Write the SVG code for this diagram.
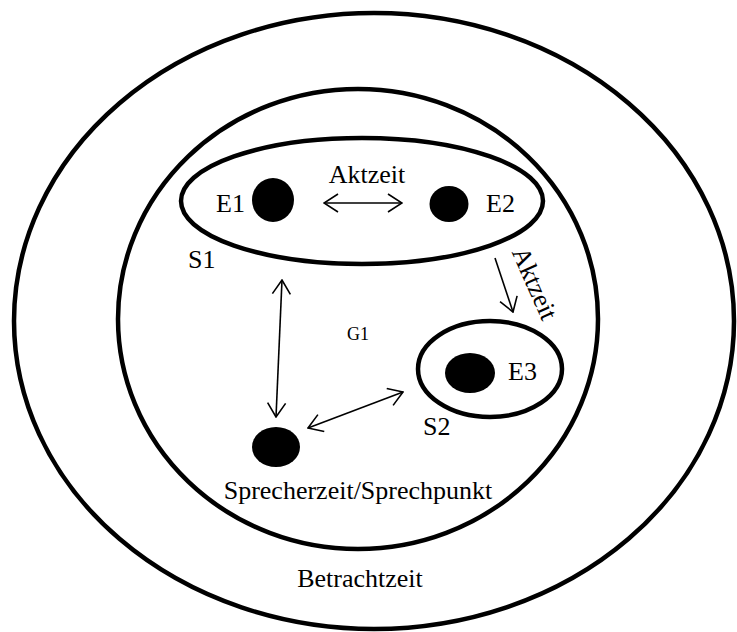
<svg xmlns="http://www.w3.org/2000/svg" width="737" height="632" viewBox="0 0 737 632">
<style>
.ring{fill:none;stroke:#000;stroke-width:4.5}
.dot{fill:#000}
.lbl{font-family:"Liberation Serif","Times New Roman",serif;font-size:26px;fill:#000}
.conn{fill:none;stroke:#000;stroke-width:1.6}
</style>
<defs>
<marker id="arr" viewBox="0 0 16 20" refX="15" refY="10" markerWidth="16" markerHeight="20" markerUnits="userSpaceOnUse" orient="auto-start-reverse">
<path d="M1,1 L15,10 L1,19" fill="none" stroke="#000" stroke-width="1.6"/>
</marker>
</defs>
<rect width="737" height="632" fill="#fff"/>
<g id="betrachtzeit">
<ellipse class="ring" cx="374" cy="321" rx="360" ry="308"/>
<text class="lbl" x="360" y="587" text-anchor="middle">Betrachtzeit</text>
</g>
<g id="G1">
<ellipse class="ring" cx="358" cy="319" rx="240" ry="230"/>
<text class="lbl" x="358" y="340" text-anchor="middle" style="font-size:18px">G1</text>
</g>
<g id="S1">
<ellipse class="ring" cx="362" cy="201" rx="181" ry="63"/>
<text class="lbl" x="188" y="268">S1</text>
</g>
<g id="E1">
<ellipse class="dot" cx="273" cy="200" rx="21" ry="22"/>
<text class="lbl" x="216" y="212">E1</text>
</g>
<g id="E2">
<ellipse class="dot" cx="449" cy="204" rx="19.5" ry="18"/>
<text class="lbl" x="486" y="212">E2</text>
</g>
<g id="S2">
<ellipse class="ring" cx="490" cy="369" rx="72" ry="48"/>
<text class="lbl" x="423" y="435">S2</text>
</g>
<g id="E3">
<ellipse class="dot" cx="470" cy="373" rx="25" ry="20"/>
<text class="lbl" x="508" y="380">E3</text>
</g>
<g id="sprecher">
<ellipse class="dot" cx="276" cy="447" rx="24" ry="20"/>
<text class="lbl" x="358" y="499" text-anchor="middle">Sprecherzeit/Sprechpunkt</text>
</g>
<g id="connectors">
<line class="conn" x1="324" y1="203" x2="402" y2="203" marker-start="url(#arr)" marker-end="url(#arr)"/>
<text class="lbl" x="367" y="183" text-anchor="middle">Aktzeit</text>
<line class="conn" x1="495" y1="258" x2="513" y2="312" marker-end="url(#arr)"/>
<text class="lbl" x="527" y="287" text-anchor="middle" transform="rotate(66 527 287)">Aktzeit</text>
<line class="conn" x1="282" y1="280" x2="276" y2="417" marker-start="url(#arr)" marker-end="url(#arr)"/>
<line class="conn" x1="308" y1="428" x2="403" y2="392" marker-start="url(#arr)" marker-end="url(#arr)"/>
</g>
</svg>
